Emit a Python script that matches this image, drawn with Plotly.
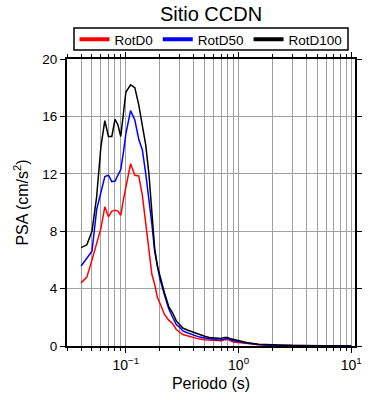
import math
import plotly.graph_objects as go

periods = [0.04, 0.045, 0.05, 0.055, 0.06, 0.065, 0.07, 0.075, 0.08, 0.085, 0.09, 0.095,
           0.1, 0.11, 0.12, 0.13, 0.14, 0.15, 0.16, 0.17, 0.18, 0.19, 0.2, 0.22, 0.24,
           0.26, 0.28, 0.3, 0.32, 0.35, 0.4, 0.45, 0.5, 0.55, 0.6, 0.65, 0.7, 0.75, 0.8,
           0.85, 0.9, 1.0, 1.1, 1.2, 1.5, 2.0, 2.5, 3.0, 4.0, 5.0, 6.0, 7.5, 10.0]

rotd0 = [4.4, 4.8, 6.0, 7.2, 8.2, 9.7, 9.0, 9.4, 9.45, 9.4, 9.1, 10.2,
         11.1, 12.7, 11.9, 11.85, 10.5, 8.6, 6.5, 5.0, 4.3, 3.4, 3.0, 2.2, 1.8,
         1.55, 1.15, 0.95, 0.8, 0.72, 0.58, 0.48, 0.44, 0.42, 0.38, 0.37, 0.37, 0.44, 0.46,
         0.36, 0.28, 0.24, 0.2, 0.16, 0.09, 0.05, 0.03, 0.02, 0.015, 0.01, 0.01, 0.008, 0.005]

rotd50 = [5.57, 6.1, 6.6, 9.5, 10.7, 11.8, 11.9, 11.45, 11.5, 11.9, 12.3, 13.5,
          14.8, 16.4, 15.75, 14.4, 13.66, 12.0, 10.3, 8.5, 6.6, 5.5, 4.7, 3.55, 2.6,
          2.0, 1.5, 1.3, 1.05, 0.92, 0.75, 0.62, 0.56, 0.5, 0.46, 0.43, 0.42, 0.5, 0.53,
          0.42, 0.36, 0.3, 0.24, 0.2, 0.11, 0.06, 0.04, 0.03, 0.02, 0.015, 0.012, 0.01, 0.007]

rotd100 = [6.85, 7.05, 8.0, 10.4, 13.9, 15.7, 14.6, 14.6, 15.8, 15.4, 14.6, 16.2,
           17.7, 18.2, 18.0, 16.8, 15.4, 14.0, 12.0, 9.0, 6.8, 5.6, 4.9, 3.7, 2.75,
           2.3, 1.75, 1.5, 1.25, 1.12, 0.95, 0.78, 0.68, 0.6, 0.56, 0.52, 0.52, 0.6, 0.6,
           0.5, 0.45, 0.33, 0.28, 0.22, 0.13, 0.07, 0.05, 0.035, 0.025, 0.018, 0.015, 0.012, 0.008]

series = [("RotD0", rotd0, "#ff0000"), ("RotD50", rotd50, "#0000ff"), ("RotD100", rotd100, "#000000")]

x_major = [0.1, 1, 10]
x_major_text = ["10<sup>\u22121</sup>", "10<sup>0</sup>", "10<sup>1</sup>"]
x_minor = [m * 10 ** e for e in (-2, -1, 0) for m in range(2, 10)]
y_ticks = [0, 4, 8, 12, 16, 20]

FONT = "Liberation Sans, Arial, sans-serif"
W, H = 390, 400
ML, MR, MT, MB = 67, 35, 59, 54
PW, PH = W - ML - MR, H - MT - MB


def px_x(wx):
    return (wx - ML) / PW


def px_y(wy):
    return 1 + (MT - wy) / PH


fig = go.Figure()
for name, vals, col in series:
    fig.add_trace(go.Scatter(x=periods, y=vals, mode="lines", name=name,
                             line=dict(color=col, width=1.5), showlegend=False))
    fig.add_trace(go.Scatter(x=[None], y=[None], mode="lines", name=name,
                             line=dict(color=col, width=4), showlegend=True))

# legend frame
fig.add_shape(type="rect", xref="paper", yref="paper",
              x0=px_x(74), x1=px_x(348), y0=px_y(50), y1=px_y(28),
              line=dict(color="black", width=1.5), fillcolor="rgba(0,0,0,0)")

fig.update_layout(
    width=W, height=H,
    margin=dict(l=ML, r=MR, t=MT, b=MB, autoexpand=False),
    paper_bgcolor="white", plot_bgcolor="white",
    font=dict(family=FONT, size=13.5, color="black"),
    title=dict(text="Sitio CCDN", x=(ML + PW / 2) / W, xanchor="center",
               y=1 - 13.5 / H, yanchor="middle", font=dict(size=20)),
    legend=dict(orientation="h", x=0.5, xanchor="center", y=px_y(39.5),
                yanchor="middle", borderwidth=0, bgcolor="rgba(0,0,0,0)",
                font=dict(size=13.5), itemwidth=30),
    showlegend=True,
)

fig.update_xaxes(
    type="log", range=[math.log10(0.03), math.log10(10.8)], automargin=False,
    tickmode="array", tickvals=x_major, ticktext=x_major_text,
    ticks="outside", ticklen=5, tickwidth=1, tickcolor="black",
    showline=True, linecolor="black", linewidth=2, mirror="ticks",
    showgrid=True, gridcolor="#a0a0a0", gridwidth=1,
    minor=dict(tickmode="array", tickvals=x_minor, ticks="outside", ticklen=3,
               tickcolor="black", showgrid=True, gridcolor="#a0a0a0", gridwidth=1),
    title=dict(text="Periodo (s)", font=dict(size=16), standoff=6),
    tickfont=dict(size=14), zeroline=False,
)
fig.update_yaxes(
    range=[0, 20], tickmode="array", tickvals=y_ticks, automargin=False,
    ticks="outside", ticklen=5, tickwidth=1, tickcolor="black",
    showline=True, linecolor="black", linewidth=2, mirror="ticks",
    showgrid=True, gridcolor="#a0a0a0", gridwidth=1,
    title=dict(text="PSA (cm/s<sup>2</sup>)", font=dict(size=16), standoff=10),
    tickfont=dict(size=13.5), zeroline=False,
)

fig.write_html("out.html", config={"displayModeBar": False},
               post_script="document.body.style.margin='0';document.body.style.padding='0';")
